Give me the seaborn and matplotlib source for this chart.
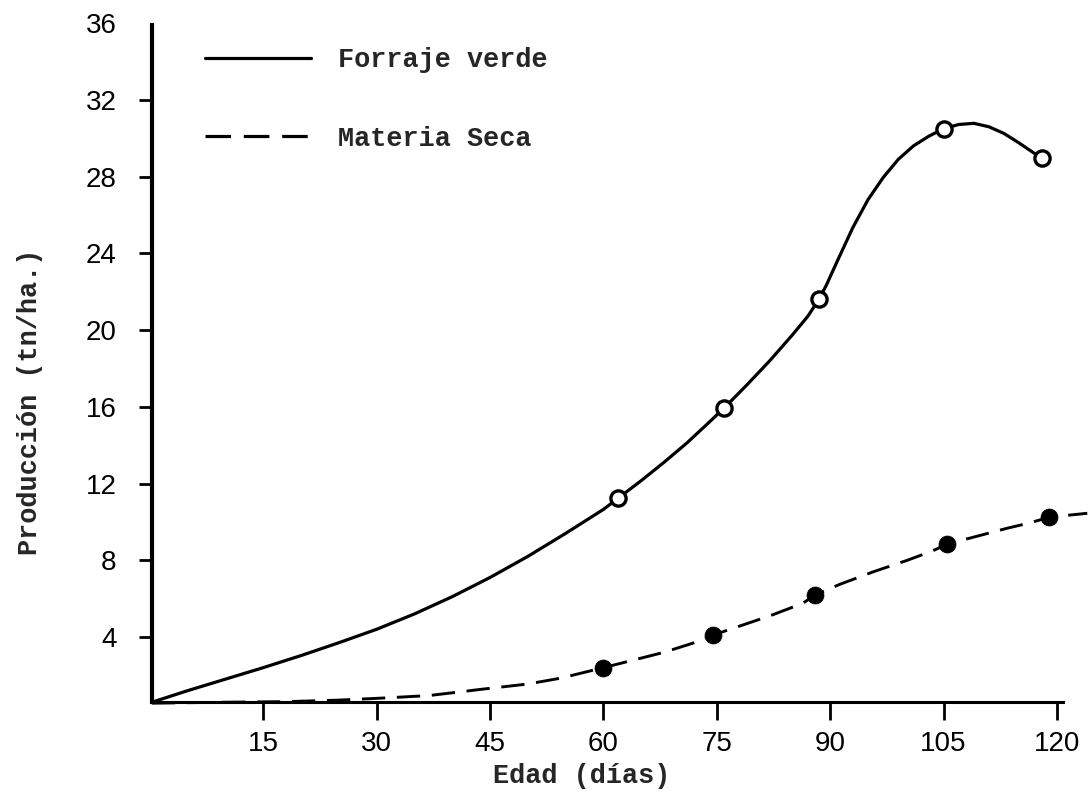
import matplotlib
matplotlib.use("Agg")
import matplotlib.pyplot as plt
import seaborn as sns

# Measured yields (tn/ha) at each harvest age (days)
verde_dias = [62.0, 76.0, 88.5, 105.0, 118.0]
verde_prod = [11.25, 15.95, 21.6, 30.5, 28.95]
seca_dias = [60.0, 74.5, 88.0, 105.5, 119.0]
seca_prod = [2.4, 4.1, 6.2, 8.85, 10.25]

# Hand-fitted trend curves through the measurements
verde_curva_dias = [0.3, 5, 10, 15, 20, 25, 30, 35, 40, 45, 50, 55, 60, 62.0, 65, 68,
                    71, 74, 76.0, 79, 82, 85, 87, 88.5, 89.5, 91, 93, 95, 97, 99, 101,
                    103, 105.0, 107, 109, 111, 113, 115, 116.5, 118.0]
verde_curva_prod = [0.6, 1.2, 1.8, 2.4, 3.03, 3.7, 4.4, 5.2, 6.1, 7.1, 8.2, 9.4, 10.65,
                    11.25, 12.15, 13.1, 14.1, 15.2, 15.95, 17.15, 18.4, 19.75, 20.7,
                    21.6, 22.35, 23.65, 25.35, 26.8, 27.95, 28.9, 29.6, 30.1, 30.5,
                    30.72, 30.78, 30.6, 30.25, 29.75, 29.35, 28.95]
seca_curva_dias = [0.3, 10, 18, 25, 31, 37, 44, 50, 54.3, 60.0, 64, 68, 72, 74.5,
                   77.2, 82, 86.4, 88.0, 91.3, 95.7, 100.2, 103.6, 105.5, 108.9,
                   113.4, 116.4, 119.0, 124.0]
seca_curva_prod = [0.55, 0.6, 0.63, 0.71, 0.82, 0.95, 1.28, 1.55, 1.85, 2.4, 2.8, 3.2,
                   3.7, 4.1, 4.46, 5.1, 5.76, 6.2, 6.75, 7.4, 8.0, 8.5, 8.85, 9.2,
                   9.67, 9.95, 10.25, 10.45]

x_ticks = [15, 30, 45, 60, 75, 90, 105, 120]
y_ticks = [4, 8, 12, 16, 20, 24, 28, 32, 36]

sns.set_style("white")
plt.rcParams["font.family"] = ["Liberation Sans", "DejaVu Sans"]

fig = plt.figure(figsize=(10.9, 7.95), dpi=100)
ax = fig.add_axes([0.1394, 0.1167, 0.8606, 0.8833])

sns.lineplot(x=verde_curva_dias, y=verde_curva_prod, ax=ax, color="black",
             linewidth=2.3, estimator=None, sort=False, label="Forraje verde",
             clip_on=False, zorder=3, solid_joinstyle="round")
sns.lineplot(x=seca_curva_dias, y=seca_curva_prod, ax=ax, color="black",
             linewidth=2.1, estimator=None, sort=False, label="Materia Seca",
             linestyle=(0, (8, 4)), clip_on=False, zorder=3)

sns.scatterplot(x=verde_dias, y=verde_prod, ax=ax, s=120, marker="o",
                facecolor="white", edgecolor="black", linewidth=2.4,
                legend=False, zorder=4, clip_on=False)
sns.scatterplot(x=seca_dias, y=seca_prod, ax=ax, s=150, marker="o",
                color="black", edgecolor="black", linewidth=0.5,
                legend=False, zorder=4, clip_on=False)

ax.set_xlim(0.3, 124.36)
ax.set_ylim(0.6, 37.21)
ax.set_xticks(x_ticks)
ax.set_yticks(y_ticks)
ax.set_xticklabels([str(v) for v in x_ticks])
ax.set_yticklabels([str(v) for v in y_ticks])

for side in ("top", "right"):
    ax.spines[side].set_visible(False)
ax.spines["left"].set_linewidth(3.0)
ax.spines["left"].set_color("black")
ax.spines["left"].set_bounds(0.6, 35.9)
ax.spines["bottom"].set_linewidth(2.2)
ax.spines["bottom"].set_color("black")
ax.spines["bottom"].set_bounds(0.3, 120.8)

ax.tick_params(axis="y", direction="out", length=9.5, width=2.0, pad=16,
               labelsize=20, colors="black", left=True)
ax.tick_params(axis="x", direction="out", length=13, width=2.0, pad=8,
               labelsize=20, colors="black", bottom=True)
ax.yaxis.get_major_ticks()[-1].tick1line.set_visible(False)

mono = {"family": ["Liberation Mono", "DejaVu Sans Mono"], "weight": "bold", "size": 19.4}
fig.text(582 / 1090, 1 - 776 / 795, "Edad (días)", ha="center", va="center", fontdict=mono)
fig.text(30 / 1090, 1 - 402 / 795, "Producción (tn/ha.)", ha="center", va="center",
         rotation=90, fontdict=mono)

leg = ax.legend(loc="upper left", bbox_to_anchor=(205 / 1090, 1 - 47 / 795),
                bbox_transform=fig.transFigure, frameon=False, borderpad=0,
                borderaxespad=0, handlelength=3.95, handletextpad=1.0,
                labelspacing=1.95, prop={"family": ["Liberation Mono"], "weight": "bold",
                                         "size": 19.4})
for h in leg.get_lines():
    h.set_linewidth(2.3)

fig.savefig("out.png", dpi=100)
